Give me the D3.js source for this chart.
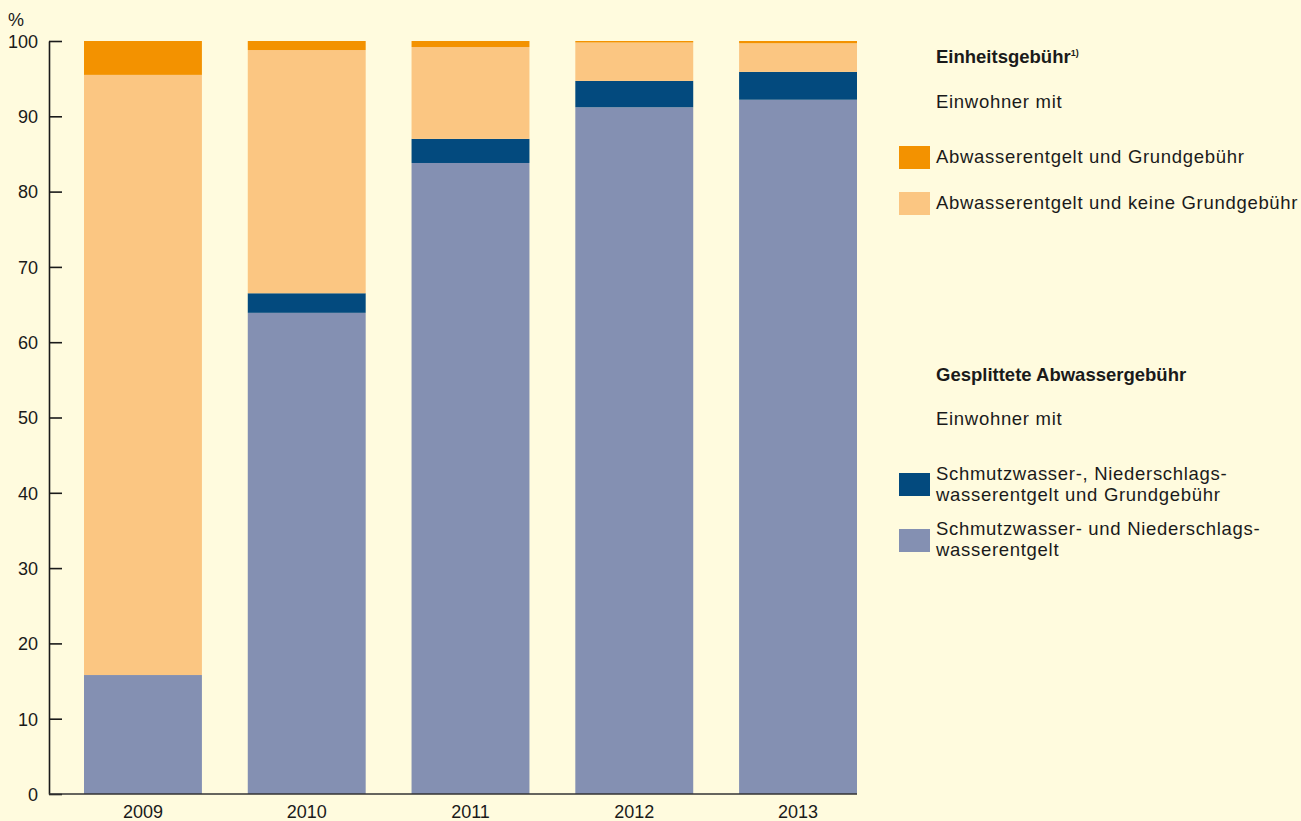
<!DOCTYPE html>
<html>
<head>
<meta charset="utf-8">
<script src="https://cdn.jsdelivr.net/npm/d3@7"></script>
<style>
    html, body { margin: 0; padding: 0; background: #fffbde; }
    svg { display: block; font-family: "Liberation Sans", Arial, sans-serif; }
</style>
</head>
<body>
<div id="chart"></div>
<script>
// Data (percent of inhabitants)
const years = ["2009", "2010", "2011", "2012", "2013"];
const splitNoBase = [15.8, 63.9, 83.8, 91.2, 92.2];   // Schmutzwasser- und Niederschlagswasserentgelt
const splitBase   = [0.0, 2.6, 3.2, 3.5, 3.7];        // Schmutzwasser-, Niederschlagswasserentgelt und Grundgebühr
const unitNoBase  = [79.7, 32.3, 12.2, 5.1, 3.8];     // Abwasserentgelt und keine Grundgebühr
const unitBase    = [4.5, 1.2, 0.8, 0.2, 0.3];        // Abwasserentgelt und Grundgebühr
const yTicks = [0, 10, 20, 30, 40, 50, 60, 70, 80, 90, 100];

const seriesKeys = ["splitNoBase", "splitBase", "unitNoBase", "unitBase"];
const seriesColors = ["#8490b2", "#034a7e", "#fbc682", "#f39200"];

function init() {
    const w = 1301, h = 821;

    const table = years.map(function(y, i) {
        return {year: y, splitNoBase: splitNoBase[i], splitBase: splitBase[i],
                unitNoBase: unitNoBase[i], unitBase: unitBase[i]};
    });

    const svg = d3.select("#chart").append("svg")
        .attr("width", w)
        .attr("height", h);

    svg.append("rect").attr("width", w).attr("height", h).attr("fill", "#fffbde");

    const xScale = d3.scaleBand()
        .domain(years)
        .range([84, 857])
        .paddingInner(0.28)
        .paddingOuter(0);

    const yScale = d3.scaleLinear()
        .domain([0, 100])
        .range([794, 41]);

    const color = d3.scaleOrdinal().domain(seriesKeys).range(seriesColors);

    const stacked = d3.stack().keys(seriesKeys)(table);

    // bars
    svg.append("g")
        .selectAll("g")
        .data(stacked)
        .enter()
        .append("g")
        .attr("fill", function(d) { return color(d.key); })
        .selectAll("rect")
        .data(function(d) { return d; })
        .enter()
        .append("rect")
        .attr("x", function(d) { return xScale(d.data.year); })
        .attr("y", function(d) { return yScale(d[1]); })
        .attr("width", xScale.bandwidth())
        .attr("height", function(d) { return yScale(d[0]) - yScale(d[1]); });

    // y axis (ticks point into the plot)
    const yAxis = svg.append("g")
        .attr("transform", "translate(49,0)")
        .call(d3.axisRight(yScale).tickValues(yTicks).tickSize(13).tickSizeOuter(0));
    yAxis.select(".domain").attr("stroke", "#1a1a1a").attr("stroke-width", 1.6);
    yAxis.selectAll(".tick line").attr("stroke", "#1a1a1a").attr("stroke-width", 1.6);
    yAxis.selectAll(".tick text")
        .attr("x", -11)
        .attr("dy", "0.35em")
        .attr("text-anchor", "end")
        .attr("fill", "#1a1a1a")
        .style("font-size", "18px");

    // x axis
    const xAxis = svg.append("g")
        .attr("transform", "translate(0,794)")
        .call(d3.axisBottom(xScale).tickSize(0).tickSizeOuter(0));
    xAxis.select(".domain").remove();
    xAxis.append("line")
        .attr("x1", 49).attr("x2", 857)
        .attr("stroke", "#333").attr("stroke-width", 1.4);
    xAxis.selectAll(".tick text")
        .attr("y", 23.5)
        .attr("dy", 0)
        .attr("fill", "#1a1a1a")
        .style("font-size", "18px");

    // unit label
    svg.append("text")
        .attr("x", 8).attr("y", 26)
        .attr("fill", "#1a1a1a")
        .style("font-size", "18px")
        .text("%");

    // legend
    const lx = 936;
    const lg = svg.append("g")
        .attr("fill", "#1a1a1a")
        .style("font-size", "18.5px")
        .style("letter-spacing", "0.7px");

    const t1 = lg.append("text").attr("x", lx).attr("y", 63.3).style("font-weight", "bold").style("letter-spacing", "0px")
        .text("Einheitsgebühr");
    t1.append("tspan").attr("dy", -7).style("font-size", "9px").text("1)");
    lg.append("text").attr("x", lx).attr("y", 108.3).text("Einwohner mit");

    lg.append("text").attr("x", lx).attr("y", 380.7).style("font-weight", "bold").style("letter-spacing", "0px")
        .text("Gesplittete Abwassergebühr");
    lg.append("text").attr("x", lx).attr("y", 425).text("Einwohner mit");

    const items = [
        {key: "unitBase", y: 146, lines: ["Abwasserentgelt und Grundgebühr"], ty: 163.3},
        {key: "unitNoBase", y: 192, lines: ["Abwasserentgelt und keine Grundgebühr"], ty: 209.3},
        {key: "splitBase", y: 473, lines: ["Schmutzwasser-, Niederschlags-", "wasserentgelt und Grundgebühr"], ty: 480},
        {key: "splitNoBase", y: 529, lines: ["Schmutzwasser- und Niederschlags-", "wasserentgelt"], ty: 535}
    ];

    items.forEach(function(it) {
        lg.append("rect")
            .attr("x", 899).attr("y", it.y)
            .attr("width", 31).attr("height", 23)
            .attr("fill", color(it.key));
        it.lines.forEach(function(line, j) {
            lg.append("text")
                .attr("x", lx).attr("y", it.ty + j * 20.7)
                .text(line);
        });
    });
}

window.onload = init;
</script>
</body>
</html>
